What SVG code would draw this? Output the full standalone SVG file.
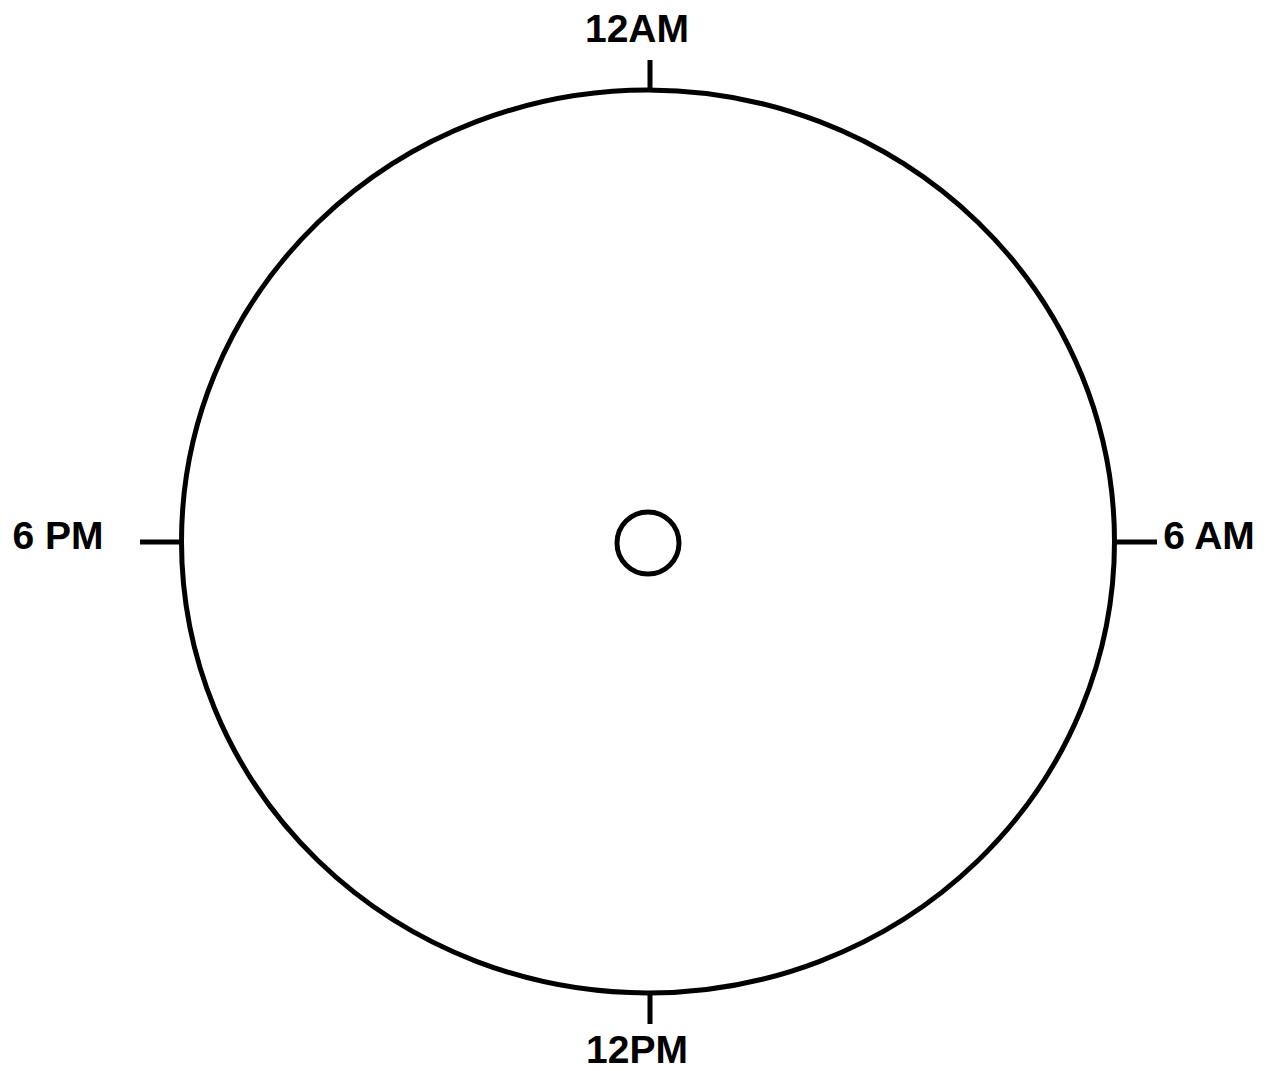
<svg xmlns="http://www.w3.org/2000/svg" width="1268" height="1071" viewBox="0 0 1268 1071">
<style>
.ln{fill:none;stroke:#000;stroke-width:5}
.lb{font-family:"Liberation Sans",Arial,sans-serif;font-weight:bold;font-size:39px;fill:#000}
</style>
<rect width="1268" height="1071" fill="#fff"/>
<g id="dial">
<ellipse class="ln" cx="648" cy="541.5" rx="466.5" ry="451.5"/>
</g>
<g id="center">
<circle class="ln" cx="648" cy="543" r="31"/>
</g>
<g id="connectors">
<line class="ln" x1="650" y1="60" x2="650" y2="90"/>
<line class="ln" x1="650" y1="993" x2="650" y2="1024"/>
<line class="ln" x1="140" y1="542" x2="181" y2="542"/>
<line class="ln" x1="1115" y1="542" x2="1157" y2="542"/>
</g>
<g id="label-12am"><text class="lb" x="637" y="42" text-anchor="middle">12AM</text></g>
<g id="label-12pm"><text class="lb" x="637" y="1063" text-anchor="middle">12PM</text></g>
<g id="label-6pm"><text class="lb" x="58" y="549" text-anchor="middle">6 PM</text></g>
<g id="label-6am"><text class="lb" x="1209" y="549" text-anchor="middle">6 AM</text></g>
</svg>
